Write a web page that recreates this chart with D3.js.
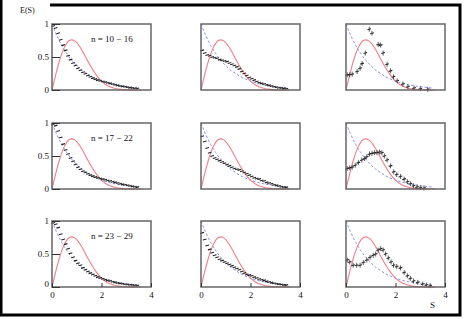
<!DOCTYPE html>
<html>
<head>
<meta charset="utf-8">
<script src="https://cdn.jsdelivr.net/npm/d3@7"></script>
<style>
  body { margin: 0; background: #fff; }
  text { font-family: "Liberation Serif", "DejaVu Serif", serif; }
</style>
</head>
<body>
<svg id="chart"></svg>
<script>
// curve samples
const curveS = [0, 0.1, 0.2, 0.3, 0.4, 0.5, 0.6, 0.7, 0.8, 0.9, 1.0, 1.2, 1.4, 1.6, 1.8, 2.0, 2.2, 2.4, 2.6, 2.8, 3.0, 3.2, 3.4, 3.6];
const wignerVals = [0, 0.156, 0.304, 0.439, 0.554, 0.646, 0.711, 0.749, 0.76, 0.748, 0.716, 0.609, 0.471, 0.336, 0.222, 0.136, 0.077, 0.041, 0.02, 0.009, 0.004, 0.002, 0.001, 0];
const poissonS = [0, 0.2, 0.4, 0.6, 0.8, 1.0, 1.2, 1.4, 1.6, 1.8, 2.0, 2.2, 2.4, 2.6, 2.8, 3.0, 3.2, 3.4, 3.5];
const poissonVals = [1, 0.82, 0.67, 0.55, 0.45, 0.37, 0.30, 0.25, 0.20, 0.165, 0.135, 0.11, 0.09, 0.074, 0.061, 0.05, 0.041, 0.033, 0.03];

// histogram bins (columns 1 and 2)
const binS = [0.05, 0.15, 0.25, 0.35, 0.45, 0.55, 0.65, 0.75, 0.85, 0.95, 1.05, 1.15, 1.25, 1.35, 1.45, 1.55, 1.65, 1.75, 1.85, 1.95, 2.05, 2.15, 2.25, 2.35, 2.45, 2.55, 2.65, 2.75, 2.85, 2.95, 3.05, 3.15, 3.25, 3.35, 3.45];
const r1c1 = [0.97, 0.94, 0.86, 0.76, 0.68, 0.60, 0.52, 0.46, 0.41, 0.37, 0.33, 0.30, 0.27, 0.245, 0.22, 0.20, 0.18, 0.165, 0.15, 0.14, 0.13, 0.12, 0.11, 0.10, 0.09, 0.08, 0.07, 0.062, 0.055, 0.048, 0.042, 0.036, 0.031, 0.027, 0.023];
const r2c1 = [0.98, 0.96, 0.88, 0.78, 0.68, 0.59, 0.53, 0.47, 0.42, 0.37, 0.33, 0.30, 0.27, 0.25, 0.23, 0.21, 0.195, 0.18, 0.17, 0.16, 0.15, 0.14, 0.13, 0.12, 0.11, 0.10, 0.09, 0.08, 0.07, 0.063, 0.056, 0.048, 0.04, 0.034, 0.028];
const r3c1 = [0.97, 0.95, 0.90, 0.80, 0.72, 0.65, 0.58, 0.51, 0.45, 0.40, 0.36, 0.33, 0.29, 0.26, 0.235, 0.21, 0.19, 0.17, 0.15, 0.135, 0.125, 0.11, 0.10, 0.09, 0.08, 0.07, 0.062, 0.055, 0.048, 0.042, 0.037, 0.033, 0.03, 0.026, 0.022];
const r1c2 = [0.60, 0.56, 0.53, 0.52, 0.50, 0.49, 0.48, 0.46, 0.45, 0.44, 0.43, 0.41, 0.39, 0.37, 0.35, 0.32, 0.28, 0.25, 0.22, 0.19, 0.17, 0.15, 0.13, 0.115, 0.10, 0.09, 0.08, 0.07, 0.06, 0.05, 0.042, 0.035, 0.03, 0.025, 0.02];
const r2c2 = [0.80, 0.72, 0.62, 0.55, 0.50, 0.47, 0.45, 0.43, 0.41, 0.39, 0.37, 0.35, 0.33, 0.31, 0.30, 0.29, 0.27, 0.25, 0.23, 0.21, 0.19, 0.17, 0.16, 0.15, 0.13, 0.12, 0.10, 0.09, 0.08, 0.065, 0.055, 0.045, 0.035, 0.03, 0.025];
const r3c2 = [0.82, 0.72, 0.63, 0.57, 0.52, 0.48, 0.45, 0.42, 0.40, 0.38, 0.36, 0.34, 0.32, 0.30, 0.28, 0.26, 0.235, 0.21, 0.19, 0.18, 0.17, 0.15, 0.135, 0.12, 0.11, 0.10, 0.085, 0.075, 0.066, 0.058, 0.05, 0.044, 0.038, 0.032, 0.028];

// column 3 points
const r1c3S = [0.05, 0.15, 0.25, 0.45, 0.57, 0.65, 0.78, 0.94, 1.05, 1.3, 1.4, 1.5, 1.66, 1.8, 1.92, 2.07, 2.3, 2.5, 2.75, 3.0, 3.3];
const r1c3 = [0.23, 0.23, 0.24, 0.28, 0.33, 0.40, 0.56, 0.92, 0.86, 0.69, 0.68, 0.56, 0.39, 0.29, 0.20, 0.14, 0.09, 0.05, 0.03, 0.02, 0.01];
const r2c3S = [0.05, 0.15, 0.25, 0.37, 0.5, 0.64, 0.75, 0.84, 0.95, 1.05, 1.15, 1.25, 1.35, 1.45, 1.55, 1.66, 1.8, 1.93, 2.05, 2.2, 2.35, 2.48, 2.6, 2.73, 2.87, 3.0, 3.15];
const r2c3 = [0.31, 0.32, 0.33, 0.36, 0.40, 0.44, 0.46, 0.49, 0.53, 0.54, 0.55, 0.55, 0.56, 0.55, 0.50, 0.44, 0.35, 0.26, 0.22, 0.19, 0.15, 0.11, 0.08, 0.05, 0.03, 0.02, 0.015];
const r3c3S = [0.05, 0.15, 0.29, 0.43, 0.57, 0.7, 0.84, 0.97, 1.1, 1.2, 1.3, 1.4, 1.5, 1.6, 1.71, 1.82, 1.92, 2.05, 2.2, 2.35, 2.48, 2.6, 2.73, 2.9, 3.1, 3.25, 3.4];
const r3c3 = [0.41, 0.38, 0.33, 0.33, 0.33, 0.37, 0.41, 0.45, 0.48, 0.50, 0.56, 0.58, 0.56, 0.50, 0.44, 0.38, 0.33, 0.31, 0.29, 0.22, 0.17, 0.13, 0.09, 0.07, 0.045, 0.03, 0.02];

const rowLabels = ["n = 10 \u2212 16", "n = 17 \u2212 22", "n = 23 \u2212 29"];
const yTicks = [0, 0.5, 1];
const xTicks = [0, 2, 4];

const panels = [
  [{ s: binS, v: r1c1 }, { s: binS, v: r1c2 }, { s: r1c3S, v: r1c3 }],
  [{ s: binS, v: r2c1 }, { s: binS, v: r2c2 }, { s: r2c3S, v: r2c3 }],
  [{ s: binS, v: r3c1 }, { s: binS, v: r3c2 }, { s: r3c3S, v: r3c3 }]
];

const width = 464;
const height = 319;
const colX = [52, 201, 346];
const rowY = [24, 123, 221];
const pw = 99;
const ph = 66;

const svg = d3.select('#chart')
  .attr('width', width)
  .attr('height', height);

// outer figure frame (top-left corner left open for the label)
svg.append('path')
  .attr('d', `M1,0 V315 H460 V5 H50`)
  .attr('fill', 'none')
  .attr('stroke', '#000')
  .attr('stroke-width', 3);

const x = d3.scaleLinear().domain([0, 4]).range([0, pw]);
const y = d3.scaleLinear().domain([0, 1]).range([ph, 0]);

const wigner = d3.line()
  .x((d, i) => x(curveS[i]))
  .y(d => y(d))
  .curve(d3.curveMonotoneX);
const poisson = d3.line()
  .x((d, i) => x(poissonS[i]))
  .y(d => y(d))
  .curve(d3.curveMonotoneX);

panels.forEach((row, r) => {
  row.forEach((p, c) => {
    const g = svg.append('g')
      .attr('transform', `translate(${colX[c]}, ${rowY[r]})`);

    g.append('path')
      .datum(poissonVals)
      .attr('d', poisson)
      .attr('fill', 'none')
      .attr('stroke', '#8a8fe8')
      .attr('stroke-width', 1)
      .attr('stroke-dasharray', '2.5,2');

    g.append('path')
      .datum(wignerVals)
      .attr('d', wigner)
      .attr('fill', 'none')
      .attr('stroke', '#ef7f89')
      .attr('stroke-width', 1.1);

    const pts = p.v.map((v, i) => ({ s: p.s[i], v: v }));
    const m = g.append('g').selectAll('g').data(pts).join('g')
      .attr('transform', d => `translate(${x(d.s)}, ${y(d.v)})`);
    m.append('line')
      .attr('x1', -1.8).attr('x2', 1.8)
      .attr('y1', 0.5).attr('y2', -0.5)
      .attr('stroke', '#222')
      .attr('stroke-width', 1.1);
    if (c === 2) {
      m.append('line')
        .attr('x1', 0).attr('x2', 0)
        .attr('y1', -2.5).attr('y2', 2.5)
        .attr('stroke', '#333')
        .attr('stroke-width', 0.8);
    }

    g.append('rect')
      .attr('width', pw).attr('height', ph)
      .attr('fill', 'none')
      .attr('stroke', '#666')
      .attr('stroke-width', 1.5);

    if (c === 0) {
      const ya = g.append('g')
        .call(d3.axisLeft(y).tickValues(yTicks).tickFormat(d3.format('')).tickSize(-8).tickPadding(3));
      ya.select('.domain').remove();
      ya.selectAll('line').attr('stroke', '#333');
      ya.selectAll('text').attr('font-size', 9).attr('fill', '#111').style('font-family', '"Liberation Serif", serif');
      if (r === 2) {
        // lift the bottom "0" so it clears the x tick label under it
        ya.selectAll('text').filter(d => d === 0).attr('dy', '-0.05em');
      }

      g.append('text')
        .attr('x', 39).attr('y', 18)
        .attr('font-size', 9)
        .attr('fill', '#111')
        .text(rowLabels[r]);
    }
    if (r === 2) {
      const xa = g.append('g')
        .attr('transform', `translate(0, ${ph})`)
        .call(d3.axisBottom(x).tickValues(xTicks).tickFormat(d3.format('d')).tickSize(-4).tickPadding(5));
      xa.select('.domain').remove();
      xa.selectAll('line').attr('stroke', '#333');
      xa.selectAll('text').attr('font-size', 9).attr('fill', '#111').style('font-family', '"Liberation Serif", serif');
    }
  });
});

svg.append('text')
  .attr('x', 20).attr('y', 13)
  .attr('font-size', 8)
  .attr('fill', '#111')
  .text('E(S)');

svg.append('text')
  .attr('x', 430).attr('y', 308)
  .attr('font-size', 9)
  .attr('fill', '#111')
  .text('S');
</script>
</body>
</html>
